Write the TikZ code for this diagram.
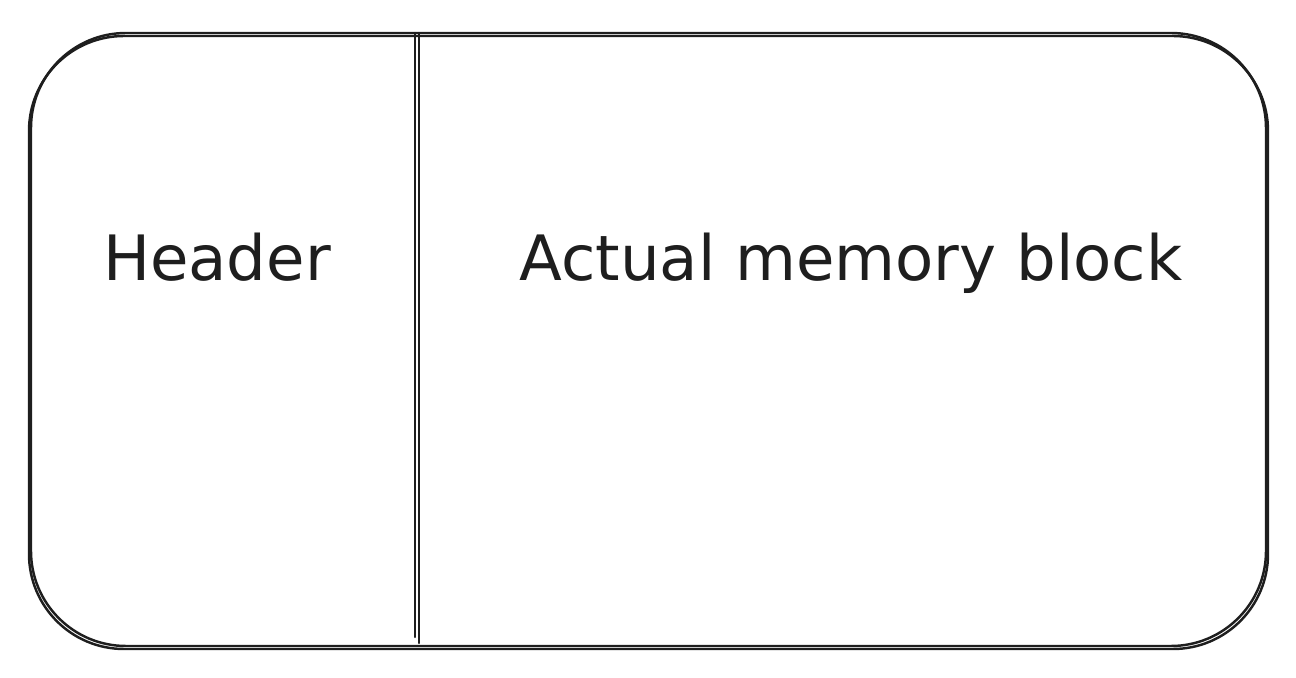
\documentclass[tikz,border=0pt]{standalone}
\usepackage{fontspec}
\setmainfont{DejaVu Sans}
\usepackage{tikz}
\usetikzlibrary{positioning}
\definecolor{ink}{HTML}{1E1E1E}

\begin{document}
\begin{tikzpicture}[
            x=0.02cm, y=-0.02cm,
            stroke/.style={draw=ink, line width=1.4pt, line cap=round},
            outline/.style={stroke, rounded corners=1.9cm},
            label/.style={anchor=base, text=ink, inner sep=0pt, font=\fontsize{35.6}{42}\selectfont}
        ]
        \useasboundingbox (0,0) rectangle (1296,678);
        % Outer box, drawn twice for the hand-drawn look
        \draw[outline] (31,33) rectangle (1266,646);
        \draw[outline] (29,36) rectangle (1268,649);
        % Divider
        \coordinate (divtop) at (417,33);
        \coordinate (divbot) at (417,643);
        \draw[stroke] ([xshift=-0.045cm]divtop) -- ([xshift=-0.045cm,yshift=0.12cm]divbot);
        \draw[stroke] ([xshift=0.045cm]divtop) -- ([xshift=0.045cm]divbot);
        % Labels
        \node[label] (header) at (217,281) {Header};
        \node[label] (block) at (851,281) {Actual memory block};
    \end{tikzpicture}
\end{document}
